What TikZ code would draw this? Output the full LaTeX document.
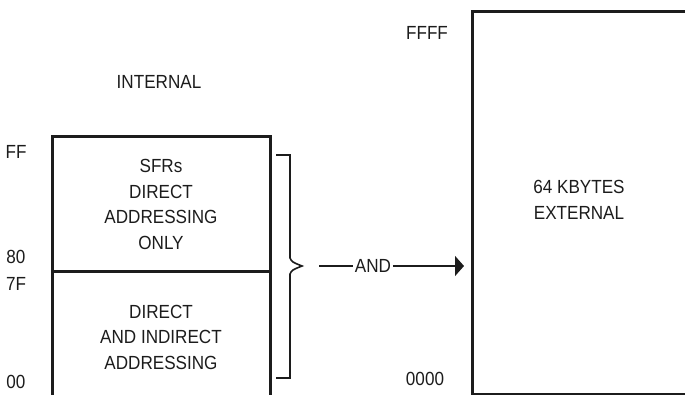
\documentclass[tikz,border=0pt]{standalone}
\usepackage{fontspec}
\setmainfont[FakeStretch=0.9]{Liberation Sans}
\usetikzlibrary{arrows.meta,positioning}
\definecolor{ink}{RGB}{28,28,28}
\tikzset{
  memblock/.style={draw=ink,line width=3pt,outer sep=0pt,inner sep=0pt,minimum width=218pt,align=center,text=ink,font=\fontsize{19}{25.5}\selectfont},
  addr/.style={inner sep=0pt,text=ink,font=\fontsize{19}{20}\selectfont},
  caption/.style={inner sep=0pt,align=center,text=ink,font=\fontsize{19}{26}\selectfont},
  brace/.style={draw=ink,line width=1.6pt},
  arr/.style={-{Triangle[length=9pt,width=20pt]},draw=ink,line width=1.6pt}
}

\begin{document}
\begin{tikzpicture}[x=1pt,y=-1pt]
  \useasboundingbox (0,0) rectangle (685,395);
  \clip (0,0) rectangle (685,395);

  % internal RAM
  \node[caption] (internal) at (159,82) {INTERNAL};
  \node[memblock,minimum height=135pt] (sfr) at (161,204.5) {SFRs\\DIRECT\\ADDRESSING\\ONLY};
  \node[memblock,minimum height=130pt,below=0pt of sfr] (iram) {DIRECT\\AND INDIRECT\\ADDRESSING};

  \node[addr] (ff) at (16,152) {FF};
  \node[addr] (a80) at (16,257) {80};
  \node[addr] (a7f) at (16,284) {7F};
  \node[addr] (a00) at (16,382) {00};

  % brace
  \coordinate (btop) at (276,155);
  \coordinate (bbot) at (276,378);
  \coordinate (btip) at (302,266);
  \draw[brace] (btop) -- (290,155) -- (290,258) .. controls (292,262) .. (btip)
    .. controls (292,270) .. (290,274) -- (290,378) -- (bbot);

  % external memory
  \node[memblock,minimum width=240pt,minimum height=382pt,anchor=north west] (ext) at (472,12) {};
  \node[caption] (exttext) at (579,200) {64 KBYTES\\EXTERNAL};
  \node[addr] (ffff) at (427,33) {FFFF};
  \node[addr] (a0000) at (425,379) {0000};

  \node[caption,inner xsep=1.5pt] (and) at (373,266) {AND};
  \draw[draw=ink,line width=1.6pt] ([xshift=17pt]btip) -- (and.west);
  \draw[arr,shorten >=8pt] (and.east) -- (ext.west |- and);
\end{tikzpicture}
\end{document}
